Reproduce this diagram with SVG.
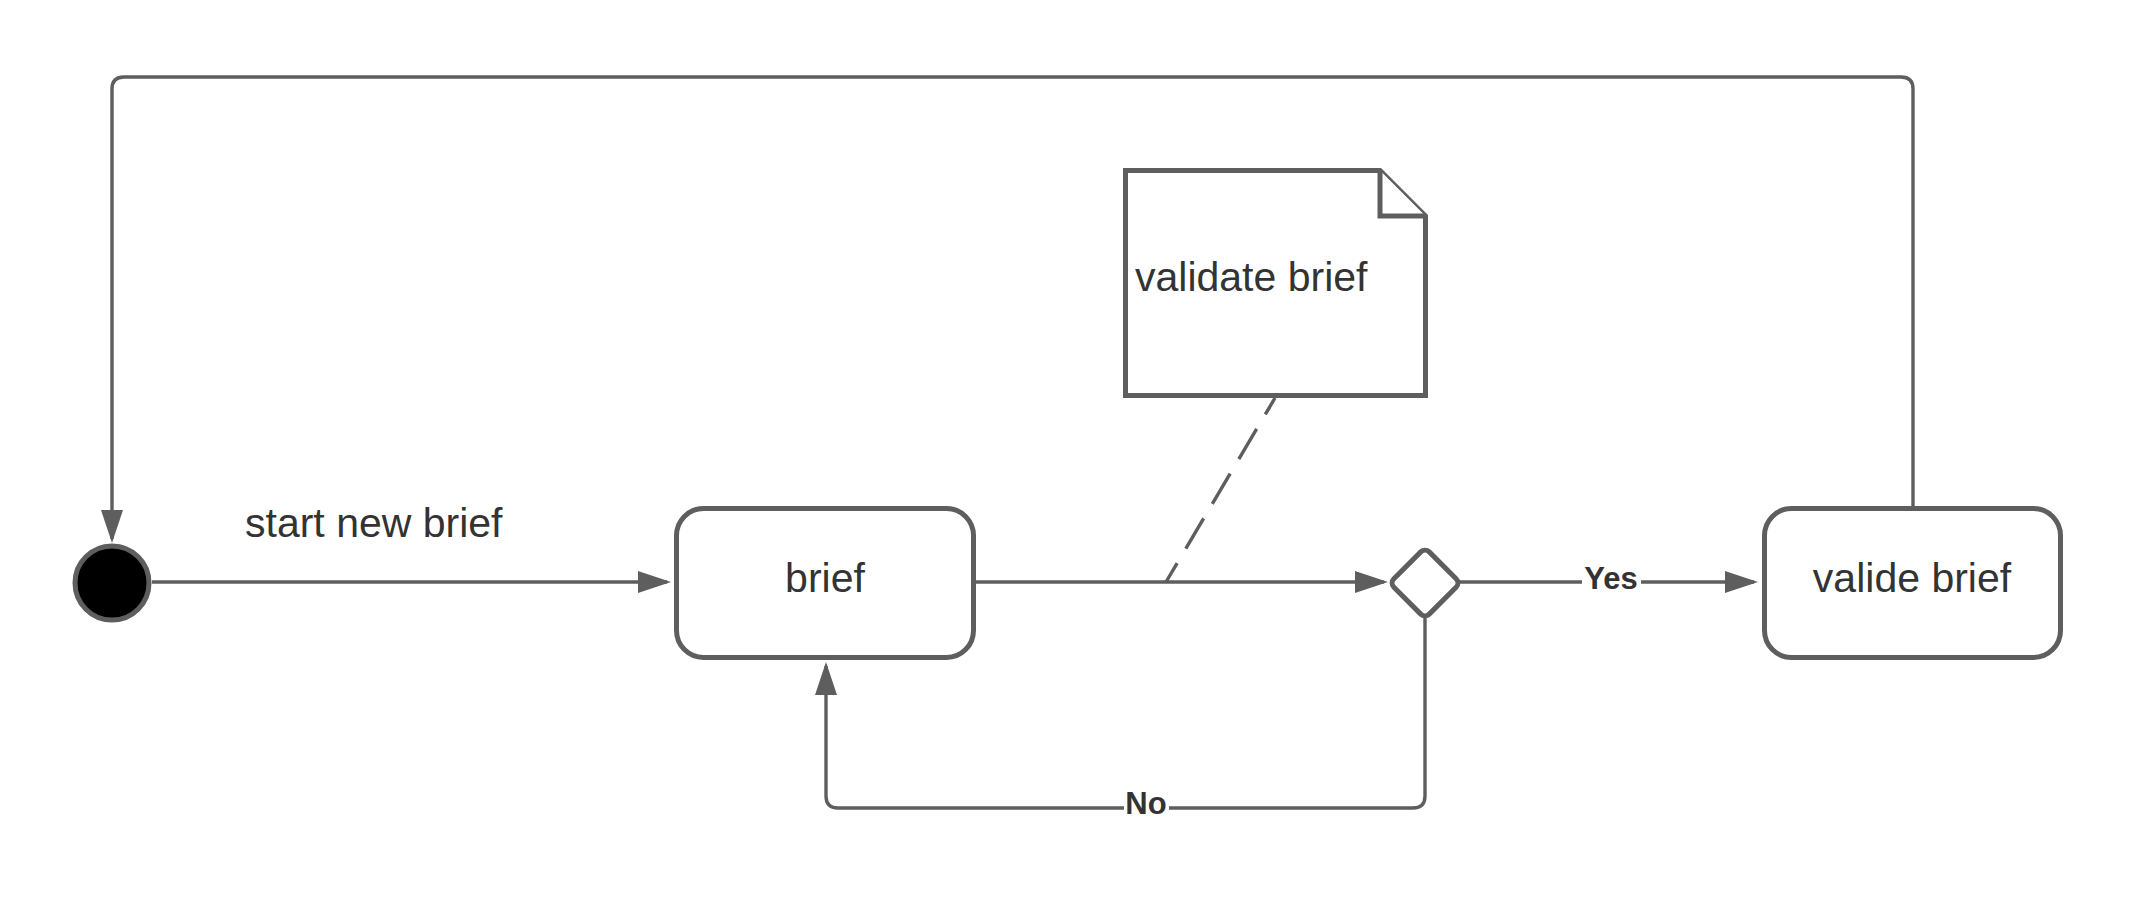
<svg xmlns="http://www.w3.org/2000/svg" width="2138" height="904" viewBox="0 0 2138 904">
<style>
.conn{fill:none;stroke:#5e5e5e;stroke-width:3.4}
.shape{fill:#fff;stroke:#5e5e5e;stroke-width:5}
.txt{font-family:"Liberation Sans",Arial,sans-serif;font-size:41px;fill:#333}
.lbl{font-family:"Liberation Sans",Arial,sans-serif;font-size:31px;font-weight:bold;fill:#333;text-anchor:middle}
</style>
<defs>
<marker id="arr" viewBox="0 0 33 22" refX="29" refY="11" markerWidth="33" markerHeight="22" markerUnits="userSpaceOnUse" orient="auto">
<path d="M0,0 L33,11 L0,22 Z" fill="#5e5e5e"/>
</marker>
</defs>
<rect width="2138" height="904" fill="#fff"/>
<g id="connectors">
<path class="conn" d="M152,582 H667" marker-end="url(#arr)"/>
<path class="conn" d="M976,582 H1384" marker-end="url(#arr)"/>
<path class="conn" d="M1459,582 H1754" marker-end="url(#arr)"/>
<path class="conn" d="M1425,618 V796 Q1425,808 1413,808 H838 Q826,808 826,796 V666" marker-end="url(#arr)"/>
<path class="conn" d="M1913,507 V89 Q1913,77 1901,77 H124 Q112,77 112,89 V539" marker-end="url(#arr)"/>
<path class="conn" d="M1275,398 L1166,582" stroke-dasharray="35 17" stroke-dashoffset="16"/>
<g id="label-yes">
<rect x="1582" y="565" width="59" height="32" fill="#fff"/>
<text class="lbl" x="1611" y="589">Yes</text>
</g>
<g id="label-no">
<rect x="1124" y="789" width="45" height="32" fill="#fff"/>
<text class="lbl" x="1146" y="814">No</text>
</g>
<text class="txt" x="245" y="537">start new brief</text>
</g>
<g id="start">
<circle cx="112" cy="583" r="37" fill="#000" stroke="#5e5e5e" stroke-width="5"/>
</g>
<g id="brief">
<rect class="shape" x="676.5" y="508.5" width="297" height="149" rx="27"/>
<text class="txt" x="825" y="592" text-anchor="middle">brief</text>
</g>
<g id="decision">
<rect class="shape" x="-25" y="-25" width="50" height="50" rx="6" transform="translate(1425,583) rotate(45)"/>
</g>
<g id="valide-brief">
<rect class="shape" x="1764.5" y="508.5" width="296" height="149" rx="27"/>
<text class="txt" x="1912" y="592" text-anchor="middle">valide brief</text>
</g>
<g id="note">
<path class="shape" d="M1125.5,170.5 H1380 L1425.5,216 V395.5 H1125.5 Z"/>
<path class="shape" d="M1380,170.5 V216 H1425.5" fill="none"/>
<text class="txt" x="1135" y="291">validate brief</text>
</g>
</svg>
